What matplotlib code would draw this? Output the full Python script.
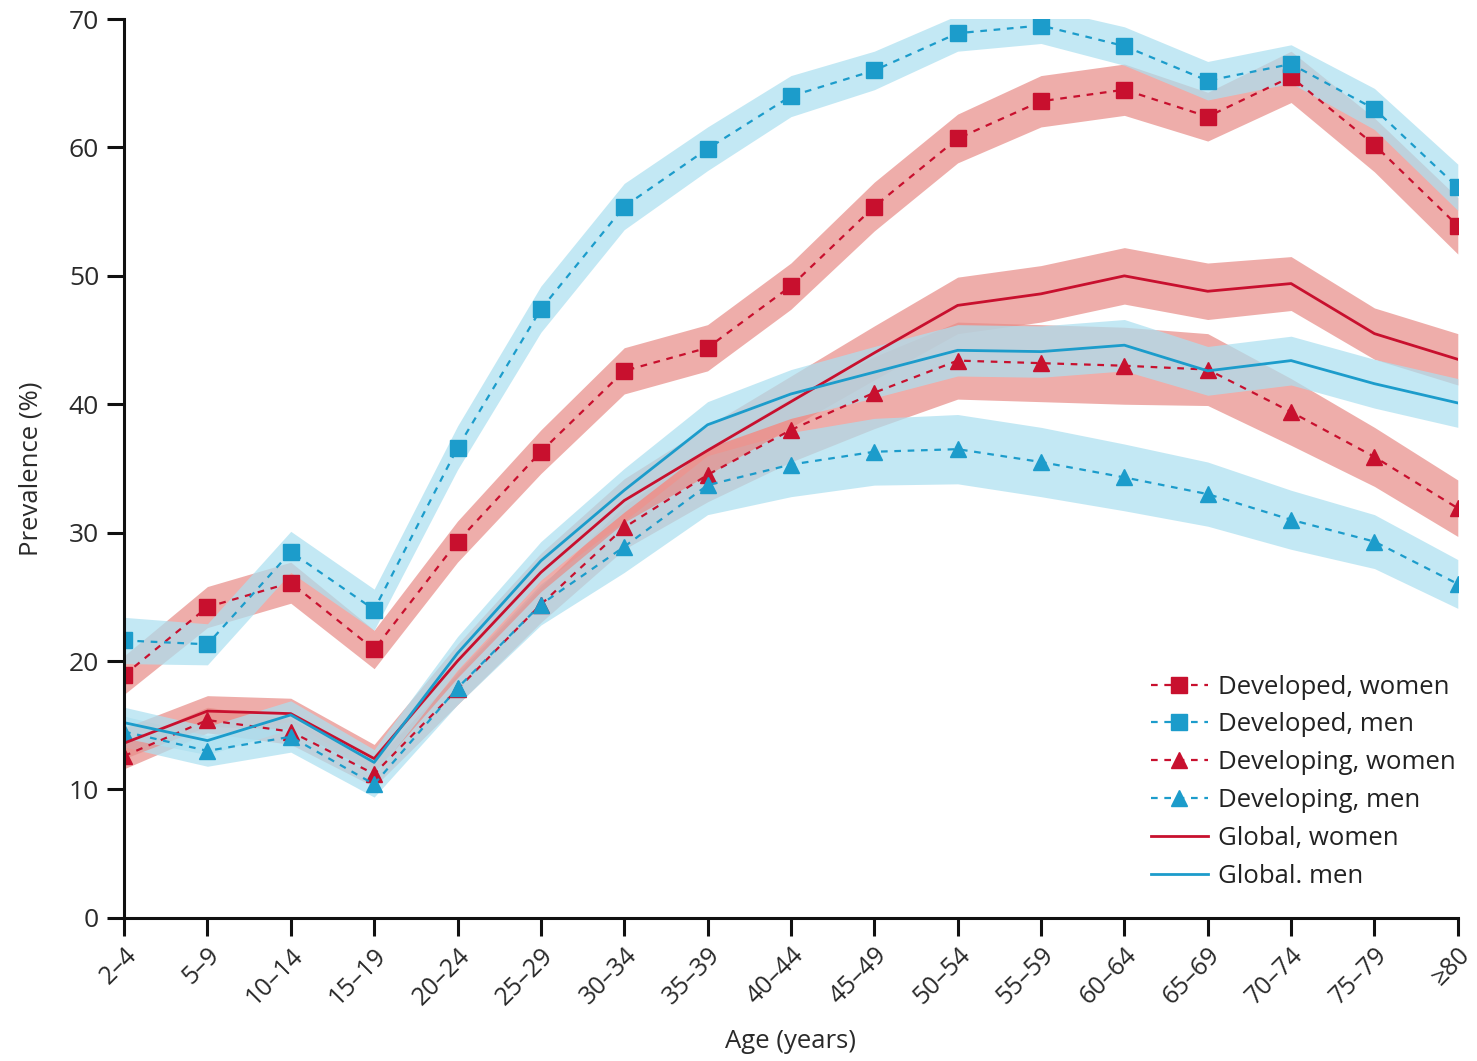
import matplotlib.pyplot as plt
import numpy as np

plt.rcParams["font.family"] = ["Open Sans", "DejaVu Sans"]

age_groups = ["2–4", "5–9", "10–14", "15–19", "20–24", "25–29", "30–34", "35–39",
              "40–44", "45–49", "50–54", "55–59", "60–64", "65–69", "70–74", "75–79", "≥80"]

# prevalence (%) and half-width of the uncertainty band
developed_women = [18.9, 24.2, 26.1, 20.9, 29.3, 36.3, 42.6, 44.4, 49.2, 55.4, 60.7, 63.6, 64.5, 62.4, 65.5, 60.2, 53.9]
developed_women_hw = [1.5, 1.6, 1.6, 1.5, 1.6, 1.7, 1.8, 1.8, 1.8, 1.9, 1.9, 2.0, 2.0, 1.9, 2.0, 2.1, 2.2]
developed_men = [21.6, 21.3, 28.5, 24.0, 36.6, 47.4, 55.4, 59.9, 64.0, 66.0, 68.9, 69.5, 67.9, 65.2, 66.5, 63.0, 56.9]
developed_men_hw = [1.8, 1.6, 1.6, 1.6, 1.7, 1.8, 1.8, 1.7, 1.6, 1.5, 1.4, 1.4, 1.5, 1.5, 1.5, 1.6, 1.8]
developing_women = [12.6, 15.4, 14.5, 11.2, 17.8, 24.4, 30.4, 34.5, 38.0, 40.9, 43.4, 43.2, 43.0, 42.7, 39.4, 35.9, 31.9]
developing_women_hw = [1.0, 1.0, 1.0, 1.0, 1.2, 1.4, 1.7, 2.1, 2.5, 2.8, 3.0, 3.0, 3.0, 2.8, 2.6, 2.3, 2.2]
developing_men = [14.5, 13.0, 14.1, 10.4, 17.9, 24.4, 28.9, 33.7, 35.3, 36.3, 36.5, 35.5, 34.3, 33.0, 31.0, 29.3, 26.0]
developing_men_hw = [1.2, 1.2, 1.2, 1.0, 1.3, 1.6, 2.0, 2.3, 2.5, 2.6, 2.7, 2.7, 2.6, 2.5, 2.3, 2.1, 1.9]
global_women = [13.6, 16.1, 15.9, 12.4, 20.0, 26.9, 32.5, 36.4, 40.2, 44.0, 47.7, 48.6, 50.0, 48.8, 49.4, 45.5, 43.5]
global_women_hw = [1.2, 1.2, 1.2, 1.1, 1.3, 1.5, 1.7, 1.9, 2.0, 2.1, 2.2, 2.2, 2.2, 2.2, 2.1, 2.0, 2.0]
global_men = [15.2, 13.8, 15.8, 12.1, 20.6, 27.8, 33.3, 38.4, 40.8, 42.5, 44.2, 44.1, 44.6, 42.6, 43.4, 41.6, 40.1]
global_men_hw = [1.2, 1.1, 1.1, 1.0, 1.3, 1.5, 1.7, 1.8, 1.9, 2.0, 2.0, 2.0, 2.0, 1.9, 1.9, 1.9, 1.9]

RED = "#c8102e"
BLUE = "#1c9ccb"
RED_BAND = "#e88e89"
BLUE_BAND = "#ace0f0"

series = [
    ("Developed, women", developed_women, developed_women_hw, RED, RED_BAND, "s", "--"),
    ("Developed, men", developed_men, developed_men_hw, BLUE, BLUE_BAND, "s", "--"),
    ("Developing, women", developing_women, developing_women_hw, RED, RED_BAND, "^", "--"),
    ("Developing, men", developing_men, developing_men_hw, BLUE, BLUE_BAND, "^", "--"),
    ("Global, women", global_women, global_women_hw, RED, RED_BAND, None, "-"),
    ("Global. men", global_men, global_men_hw, BLUE, BLUE_BAND, None, "-"),
]

fig = plt.figure(figsize=(14.77, 10.61), dpi=100)
ax = fig.add_axes([0.084, 0.135, 0.903, 0.847])

x = np.arange(len(age_groups))
handles = []
for label, vals, hw, col, band, marker, ls in series:
    vals = np.array(vals)
    hw = np.array(hw)
    ax.fill_between(x, vals - hw, vals + hw, color=band, alpha=0.72, lw=0)
    if ls == "--":
        (h,) = ax.plot(x, vals, ls=ls, dashes=(3, 3), color=col, lw=1.6,
                       marker=marker, ms=11 if marker == "s" else 12, label=label)
    else:
        (h,) = ax.plot(x, vals, ls=ls, color=col, lw=2.0, label=label)
    handles.append(h)

ax.set_xlim(0, len(age_groups) - 1)
ax.set_ylim(0, 70)
ax.set_yticks(range(0, 71, 10))
ax.set_xticks(x)
ax.set_xticklabels(age_groups, rotation=45, ha="right", rotation_mode="anchor",
                   fontsize=18, color="#2a2a2a")
ax.tick_params(axis="y", labelsize=19, labelcolor="#2a2a2a", length=12, width=2.2,
               color="#111111", pad=6)
ax.tick_params(axis="x", length=13, width=2.2, color="#111111", pad=5)
for s in ["top", "right"]:
    ax.spines[s].set_visible(False)
for s in ["left", "bottom"]:
    ax.spines[s].set_linewidth(2.2)
    ax.spines[s].set_color("#111111")

ax.set_ylabel("Prevalence (%)", fontsize=18.5, labelpad=18, color="#2a2a2a")
ax.set_xlabel("Age (years)", fontsize=18.5, labelpad=14, color="#2a2a2a")

leg = ax.legend(handles=handles, loc="lower right", bbox_to_anchor=(1.01, 0.015), frameon=False,
                fontsize=18.5, handlelength=2.2, handletextpad=0.4, labelspacing=0.5,
                borderpad=0.1)
for t in leg.get_texts():
    t.set_color("#222222")

fig.savefig("out.png", dpi=100)
